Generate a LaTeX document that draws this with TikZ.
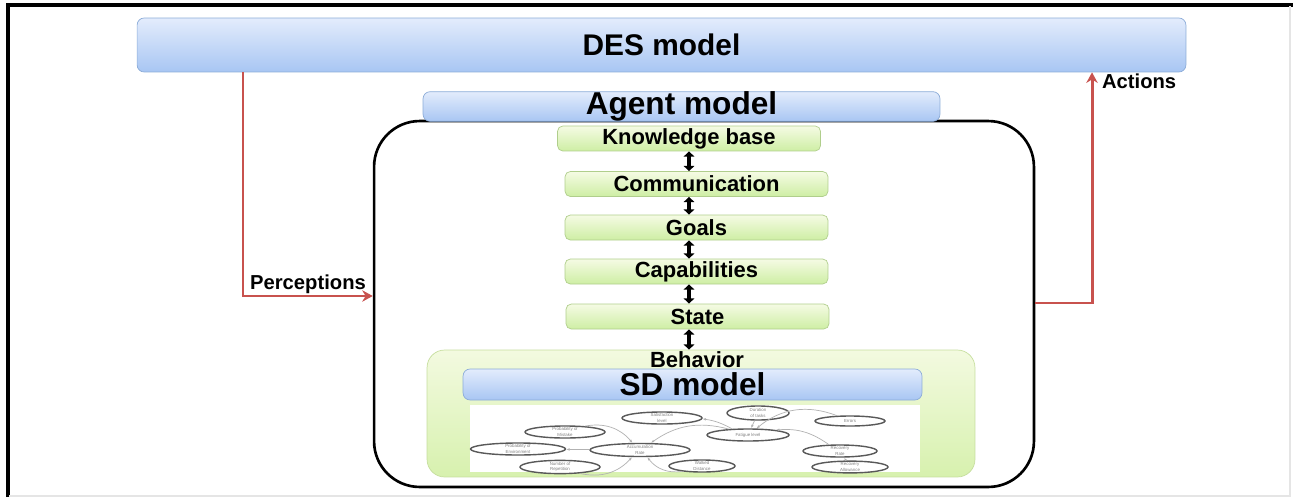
\documentclass[tikz,border=0pt]{standalone}
\usepackage{fontspec}
\setmainfont{Liberation Sans}
\usetikzlibrary{arrows.meta,shapes.geometric}

\definecolor{bluetop}{RGB}{227,236,252}
\definecolor{bluebot}{RGB}{168,198,243}
\definecolor{blueline}{RGB}{140,172,216}
\definecolor{greentop}{RGB}{245,251,228}
\definecolor{greenbot}{RGB}{206,238,164}
\definecolor{greenline}{RGB}{176,206,140}
\definecolor{behtop}{RGB}{243,250,224}
\definecolor{behbot}{RGB}{215,241,174}
\definecolor{behline}{RGB}{198,222,158}
\definecolor{sigred}{RGB}{200,82,78}

\begin{document}
\begin{tikzpicture}[x=0.02cm, y=-0.02cm,
    bluebox/.style={draw=blueline, rounded corners=4pt, top color=bluetop, bottom color=bluebot, inner sep=0pt, font=\bfseries\fontsize{18}{20}\selectfont},
    greenbox/.style={draw=greenline, rounded corners=3pt, top color=greentop, bottom color=greenbot, inner sep=0pt, minimum width=5.26cm, minimum height=0.5cm, font=\bfseries\fontsize{12.5}{14}\selectfont},
    dbl/.style={{Triangle[width=6pt,length=3pt]}-{Triangle[width=6pt,length=3pt]}, line width=2pt},
    sig/.style={-{Stealth[length=6pt,width=6.5pt]}, draw=sigred, line width=1.7pt},
    lbl/.style={font=\bfseries\fontsize{11.5}{13}\selectfont, inner sep=1pt},
    sdnode/.style={ellipse, draw=black!65, line width=0.8pt, fill=white, inner sep=0pt, font=\fontsize{2.5}{3}\selectfont, text=gray, align=center},
    sdlink/.style={-{Latex[length=2pt]}, gray!60, line width=0.4pt}
]
    \useasboundingbox (0,0) rectangle (1293,500);

    % frame
    \draw[line width=2pt] (8,497) -- (8,5) -- (1293,5);
    \draw[gray!20, line width=1pt] (1290,6) -- (1290,496) -- (9,496);

    \node[bluebox, minimum width=20.98cm, minimum height=1.08cm, font=\bfseries\fontsize{17}{19}\selectfont] (des) at (661.5,45) {DES model};

    \node[draw, line width=1.5pt, rounded corners=26pt, minimum width=13.2cm, minimum height=7.32cm] (agentbox) at (704,304) {};
    \node[bluebox, minimum width=10.34cm, minimum height=0.58cm] (agent) at (681.5,106.5) {Agent model};

    \node[greenbox] (kb) at (689,138.5) {Knowledge base};
    \node[greenbox] (comm) at (696.5,184) {Communication};
    \node[greenbox] (goals) at (696.5,227.5) {Goals};
    \node[greenbox] (capab) at (696.5,271.5) {Capabilities};
    \node[greenbox] (state) at (697.5,316.5) {State};

    \node[draw=behline, rounded corners=10pt, top color=behtop, bottom color=behbot, minimum width=10.96cm, minimum height=2.54cm] (behav) at (701,413.5) {};
    \node[font=\bfseries\fontsize{12.5}{14}\selectfont, inner sep=0pt] (behlabel) at (697,360) {Behavior};
    \node[bluebox, minimum width=9.18cm, minimum height=0.62cm] (sd) at (692.5,384.5) {SD model};
    \node[fill=white, minimum width=9cm, minimum height=1.34cm, inner sep=0pt] (sdimg) at (695,438.5) {};

    \coordinate (axis) at (689,0);
    \foreach \a/\b in {kb/comm, comm/goals, goals/capab, capab/state, state/behav}
        \draw[dbl] (\a.south -| axis) -- (\b.north -| axis);

    % signals between the models
    \coordinate (pcol) at (243,296);
    \coordinate (acol) at (1092,303);
    \draw[sig] (des.south -| pcol) |- (agentbox.west |- pcol);
    \draw[sig] (agentbox.east |- acol) -| (des.south -| acol);
    \node[lbl, anchor=base] (perclabel) at (308,289) {Perceptions};
    \node[lbl, anchor=west] (actlabel) at (1100,81) {Actions};

    % SD diagram
    \node[sdnode, minimum width=1.6cm, minimum height=0.24cm] (sat) at (662,418) {Satisfaction\\level};
    \node[sdnode, minimum width=1.24cm, minimum height=0.28cm] (dur) at (758,413) {Duration\\of tasks};
    \node[sdnode, minimum width=1.4cm, minimum height=0.2cm] (err) at (850,421) {Errors};
    \node[sdnode, minimum width=1.64cm, minimum height=0.24cm] (fat) at (748,435) {Fatigue level};
    \node[sdnode, minimum width=1.48cm, minimum height=0.24cm] (recr) at (840,451) {Recovery\\Rate};
    \node[sdnode, minimum width=1.52cm, minimum height=0.22cm] (reca) at (850,467) {Recovery\\Allowance};
    \node[sdnode, minimum width=1.32cm, minimum height=0.22cm] (walk) at (702,466) {Walked\\Distance};
    \node[sdnode, minimum width=2cm, minimum height=0.26cm] (acc) at (640,450) {Accumulation\\Rate};
    \node[sdnode, minimum width=1.6cm, minimum height=0.22cm] (probm) at (565,432) {Probability of\\Mistake};
    \node[sdnode, minimum width=1.9cm, minimum height=0.24cm] (probe) at (518,449) {Probability of\\Environment};
    \node[sdnode, minimum width=1.6cm, minimum height=0.22cm] (num) at (560,467) {Number of\\Repetition};

    \draw[sdlink] (dur) -- (fat);
    \draw[sdlink] (fat) to[bend right=10] (sat);
    \draw[sdlink] (fat) to[bend right=25] (acc);
    \draw[sdlink] (err) to[bend right=30] (fat);
    \draw[sdlink] (recr) to[bend right=20] (fat);
    \draw[sdlink] (reca) -- (recr);
    \draw[sdlink] (probm) to[bend left=30] (acc);
    \draw[sdlink] (acc) -- (probe);
    \draw[sdlink] (num) to[bend right=30] (acc);
    \draw[sdlink] (walk) to[bend left=30] (acc);
\end{tikzpicture}
\end{document}
